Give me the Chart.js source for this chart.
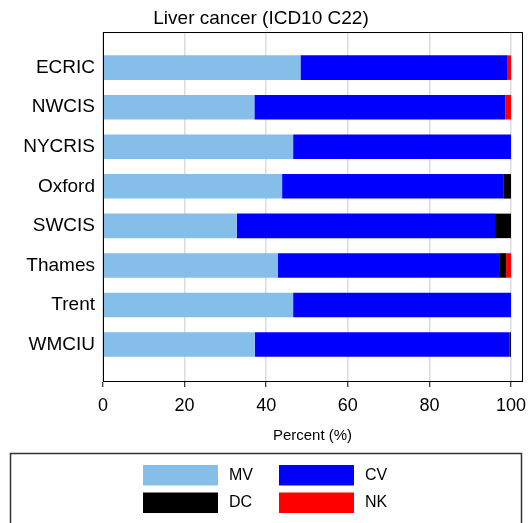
<!DOCTYPE html>
<html>
<head>
    <title>Liver cancer (ICD10 C22)</title>
    <script src="https://cdn.jsdelivr.net/npm/chart.js"></script>
    <style>
        body { margin: 0; background: #fff; }
        canvas { display: block; }
    </style>
</head>
<body>
    <canvas id="liverChart" width="532" height="523"></canvas>
    <script type="text/javascript">
        // registries, top to bottom
        var registries = ['ECRIC', 'NWCIS', 'NYCRIS', 'Oxford', 'SWCIS', 'Thames', 'Trent', 'WMCIU'];

        // percent of cases by basis of diagnosis
        var mv = [48.4, 37.1, 46.6, 43.9, 32.8, 42.9, 46.6, 37.2];
        var cv = [50.8, 61.5, 53.4, 54.2, 63.3, 54.4, 53.4, 62.4];
        var dc = [0.0, 0.0, 0.0, 1.9, 3.9, 1.5, 0.0, 0.4];
        var nk = [0.8, 1.4, 0.0, 0.0, 0.0, 1.2, 0.0, 0.0];

        var xTicks = [0, 20, 40, 60, 80, 100];

        function points(values) {
            return values.map(function(v, i) { return { x: v, y: i }; });
        }

        // box around the plotting region
        var framePlugin = {
            id: 'frame',
            afterDatasetsDraw: function(chart) {
                var a = chart.chartArea;
                var ctx = chart.ctx;
                ctx.save();
                ctx.strokeStyle = '#000';
                ctx.lineWidth = 1;
                ctx.strokeRect(Math.round(a.left) + 0.5, Math.round(a.top) + 0.5,
                    Math.round(a.right - a.left), Math.round(a.bottom - a.top));
                ctx.restore();
            }
        };

        // boxed legend, two columns, below the axis title
        var boxLegendPlugin = {
            id: 'boxLegend',
            afterDraw: function(chart) {
                var ctx = chart.ctx;
                var sets = chart.data.datasets;
                ctx.save();
                ctx.strokeStyle = '#333';
                ctx.lineWidth = 1.5;
                ctx.strokeRect(10.5, 453.5, 511, 80);
                ctx.font = '16px "Liberation Sans", Arial, sans-serif';
                ctx.textBaseline = 'middle';
                sets.forEach(function(ds, n) {
                    var col = n % 2, row = Math.floor(n / 2);
                    var x = 143 + col * 136;
                    var y = 465 + row * 27.5;
                    ctx.fillStyle = ds.backgroundColor;
                    ctx.fillRect(x, y, 75, 20.5);
                    ctx.fillStyle = '#000';
                    ctx.fillText(ds.label, x + 86, y + 10.5);
                });
                ctx.restore();
            }
        };

        Chart.defaults.font.family = '"Liberation Sans", Arial, sans-serif';
        Chart.defaults.color = '#000';

        var ctx = document.getElementById('liverChart').getContext('2d');
        var liverChart = new Chart(ctx, {
            type: 'bar',
            data: {
                datasets: [
                    { label: 'MV', data: points(mv), backgroundColor: '#86BEEA' },
                    { label: 'CV', data: points(cv), backgroundColor: '#0000FF' },
                    { label: 'DC', data: points(dc), backgroundColor: '#000000' },
                    { label: 'NK', data: points(nk), backgroundColor: '#FF0000' }
                ]
            },
            plugins: [framePlugin, boxLegendPlugin],
            options: {
                responsive: false,
                animation: false,
                indexAxis: 'y',
                layout: {
                    padding: { left: 0, right: 10, top: 0, bottom: 83 }
                },
                datasets: {
                    bar: { categoryPercentage: 0.62, barPercentage: 1, borderWidth: 0 }
                },
                scales: {
                    x: {
                        type: 'linear',
                        stacked: true,
                        min: 0,
                        max: 102.7,
                        afterBuildTicks: function(scale) {
                            scale.ticks = xTicks.map(function(v) { return { value: v }; });
                        },
                        afterFit: function(scale) {
                            scale.height = 59;
                            scale.paddingRight = 0;
                            scale.paddingLeft = 0;
                        },
                        grid: {
                            color: '#dcdcdc',
                            lineWidth: 1.5,
                            tickColor: '#000',
                            tickWidth: 1,
                            tickLength: 6,
                            drawOnChartArea: true
                        },
                        border: { color: '#000', width: 1 },
                        ticks: { font: { size: 18 }, padding: 8, maxRotation: 0 },
                        title: {
                            display: true,
                            text: 'Percent (%)',
                            font: { size: 15 },
                            padding: { top: 4, bottom: -5 }
                        }
                    },
                    y: {
                        type: 'linear',
                        stacked: true,
                        reverse: true,
                        offset: false,
                        min: -0.9,
                        max: 7.92,
                        afterBuildTicks: function(scale) {
                            scale.ticks = registries.map(function(r, i) { return { value: i }; });
                        },
                        afterFit: function(scale) { scale.width = 103; },
                        grid: { display: false, offset: false },
                        border: { color: '#000', width: 1 },
                        ticks: {
                            font: { size: 19 },
                            padding: 0,
                            callback: function(v) { return registries[v]; }
                        }
                    }
                },
                plugins: {
                    legend: { display: false },
                    tooltip: { enabled: false },
                    title: {
                        display: true,
                        text: 'Liver cancer (ICD10 C22)',
                        font: { size: 19, weight: 'normal' },
                        color: '#000',
                        padding: { top: 7, bottom: 2.2 }
                    }
                }
            }
        });
    </script>
</body>
</html>
